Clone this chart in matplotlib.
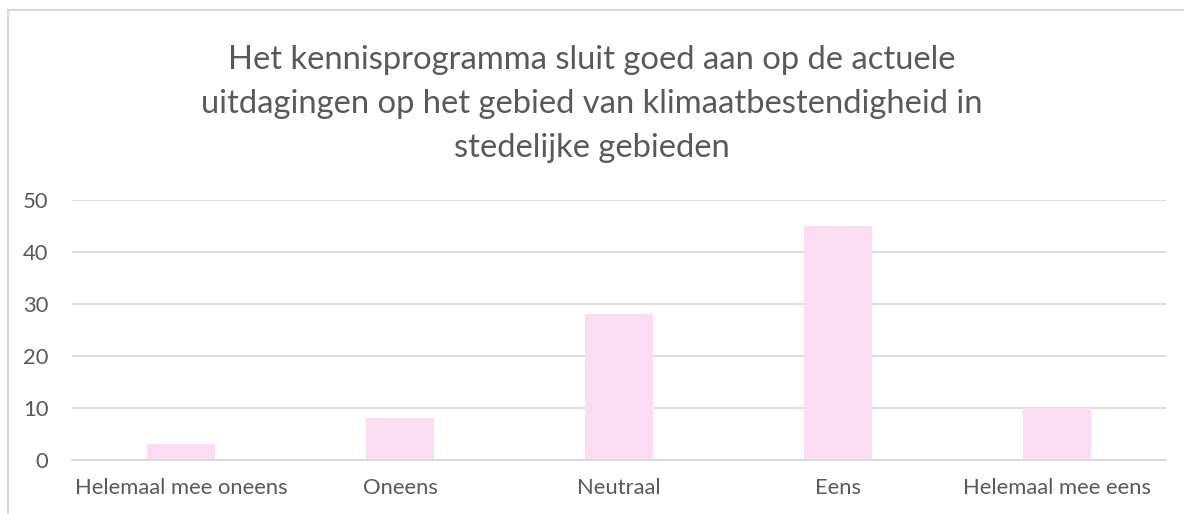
import matplotlib.pyplot as plt
from matplotlib.lines import Line2D

# survey answers
categories = ['Helemaal mee oneens', 'Oneens', 'Neutraal', 'Eens', 'Helemaal mee eens']
counts = [3, 8, 28, 45, 10]
yticks = [0, 10, 20, 30, 40, 50]
title = ('Het kennisprogramma sluit goed aan op de actuele\n'
         'uitdagingen op het gebied van klimaatbestendigheid in\n'
         'stedelijke gebieden')

plt.rcParams['font.family'] = ['Lato', 'DejaVu Sans']
txt = '#595959'
grid = '#d9d9d9'

fig = plt.figure(figsize=(11.84, 5.14), dpi=100)
ax = fig.add_axes([72 / 1184, 1 - 460 / 514, 1094 / 1184, 260 / 514])

ax.bar(range(len(categories)), counts, width=0.31, color='#fcdcf3', zorder=2)
ax.set_xlim(-0.5, len(categories) - 0.5)
ax.set_ylim(0, 50)
ax.set_yticks(yticks)
ax.set_xticks(range(len(categories)))
ax.set_xticklabels(categories)
ax.yaxis.grid(True, color=grid, linewidth=1.3, zorder=0)
ax.set_axisbelow(True)
for s in ['top', 'right', 'left']:
    ax.spines[s].set_visible(False)
ax.spines['bottom'].set_color(grid)
ax.spines['bottom'].set_linewidth(1.3)
ax.tick_params(length=0, labelsize=15.8, colors=txt)
ax.tick_params(axis='x', pad=13)
ax.tick_params(axis='y', pad=17)

fig.text(0.5, 1 - 104 / 514, title, ha='center', va='center',
         fontsize=23.6, color=txt, linespacing=1.6)

# chart frame (left and top edges visible)
fig.add_artist(Line2D([8 / 1184, 8 / 1184], [0, 1 - 10 / 514],
                      transform=fig.transFigure, color=grid, linewidth=1.5))
fig.add_artist(Line2D([8 / 1184, 1], [1 - 10 / 514, 1 - 10 / 514],
                      transform=fig.transFigure, color=grid, linewidth=1.5))

fig.savefig('out.png', dpi=100)
